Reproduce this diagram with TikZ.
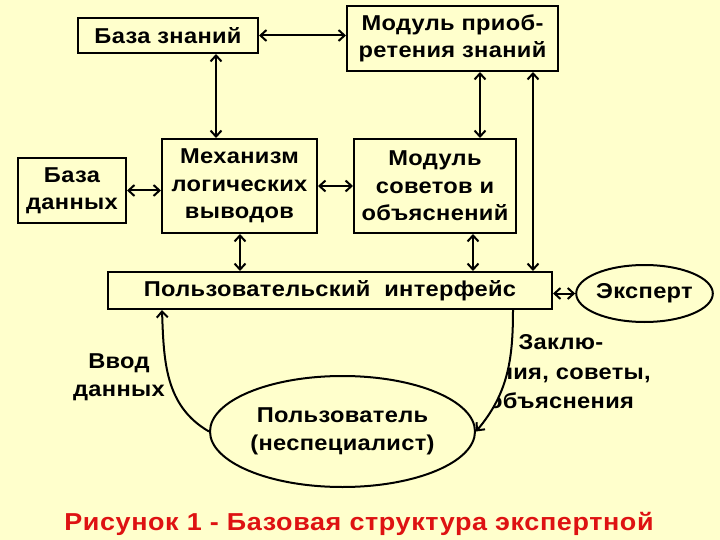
\documentclass[tikz,border=0pt]{standalone}
\usepackage{fontspec}
\setmainfont{Liberation Sans}[FakeStretch=1.1, LetterSpace=1.5]
\usetikzlibrary{arrows.meta,shapes.geometric,calc}
\definecolor{bg}{RGB}{255,255,204}
\definecolor{titlered}{RGB}{222,18,18}
\begin{document}
\begin{tikzpicture}[x=1pt,y=-1pt,
  txt/.style={font=\fontsize{21.5}{27.5}\selectfont\bfseries, align=center, inner sep=0pt},
  box/.style={txt, draw, line width=2pt, rectangle},
  oval/.style={txt, draw, line width=2pt, ellipse},
  tip/.tip={Straight Barb[length=6pt,width=11pt]},
  link/.style={line width=2pt, tip-tip},
  flow/.style={line width=2pt, -tip}]
\fill[bg] (0,0) rectangle (720,540);
\useasboundingbox (0,0) rectangle (720,540);

\node[box, minimum width=180pt, minimum height=35pt] (kb) at (168,35.5) {База знаний};
\node[box, minimum width=211pt, minimum height=65pt] (acq) at (452.5,38.5) {Модуль приоб-\\ретения знаний};
\node[box, minimum width=108pt, minimum height=65pt] (db) at (72,190.5) {База\\данных};
\node[box, minimum width=155pt, minimum height=94pt] (inf) at (239.5,186) {Механизм\\логических\\выводов};
\node[box, minimum width=162pt, minimum height=94pt] (expl) at (435,186) {Модуль\\советов и\\объяснений};
\node[box, minimum width=444pt, minimum height=37pt] (ui) at (330,290.5) {Пользовательский\ \ интерфейс};
\node[oval, minimum width=129pt, minimum height=57pt] (exp) at (644.5,293.5) {Эксперт};
\node[oval, minimum width=265pt, minimum height=111pt] (user) at (342.5,431.5) {Пользователь\\(неспециалист)};

\draw[link] (kb.east) -- (kb.east -| acq.west);
\draw[link] ([xshift=48pt]kb.south) -- ([xshift=48pt]kb.south |- inf.north);
\draw[link] (db.east) -- (db.east -| inf.west);
\draw[link] (inf.east) -- (inf.east -| expl.west);
\draw[link] ([xshift=27.5pt]acq.south) -- ([xshift=27.5pt]acq.south |- expl.north);
\draw[link] ([xshift=80.5pt]acq.south) -- ([xshift=80.5pt]acq.south |- ui.north);
\draw[link] ([xshift=38pt]expl.south) -- ([xshift=38pt]expl.south |- ui.north);
\draw[link] ([xshift=0.5pt]inf.south) -- ([xshift=0.5pt]inf.south |- ui.north);
\draw[link] (ui.east |- exp.west) -- (exp.west);

\draw[flow] (user.west) to[out=150,in=-88] ([xshift=-168pt]ui.south);
\draw[flow] ([xshift=183pt]ui.south) to[out=-90,in=50] (user.east);

\node[txt] (inlab) at (119,377) {Ввод\\данных};
\begin{scope}
  \clip ([xshift=183pt]ui.south) to[out=-90,in=50] (user.east) -- (720,431.5) -- (720,309) -- cycle;
  \node[txt, font=\fontsize{21.5}{29.5}\selectfont\bfseries] (outlab) at (561,372) {Заклю-\\чения, советы,\\объяснения};
\end{scope}

\node[font=\fontsize{24.5}{28}\selectfont\bfseries\addfontfeature{LetterSpace=2.5}, text=titlered, inner sep=0pt, anchor=base] (title) at (359,530) {Рисунок 1 - Базовая структура экспертной};
\end{tikzpicture}
\end{document}
